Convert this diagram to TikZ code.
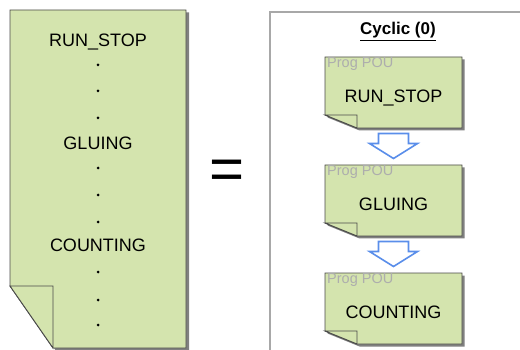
\documentclass[tikz,border=0pt]{standalone}
\usepackage{fontspec}
\setmainfont{Liberation Sans}
\usetikzlibrary{positioning}
\definecolor{note-green}{HTML}{D4E4AE}
\definecolor{note-edge}{HTML}{4A4A4A}
\definecolor{arrow-blue}{HTML}{5A8EEA}
\definecolor{frame-gray}{HTML}{A8A8A8}

\begin{document}
\begin{tikzpicture}[x=1pt, y=-1pt,
    notebody/.style={fill=note-green, draw=note-edge, line width=0.9pt, line join=miter},
    noteshadow/.style={fill=black!50},
    poubox/.style={minimum width=137pt, minimum height=71pt, inner sep=0pt},
    bigtext/.style={font=\fontsize{18}{20}\selectfont, text height=13pt, text depth=0pt, inner sep=0pt},
    poutag/.style={font=\fontsize{14.5}{16}\selectfont, text=black!32, anchor=west, inner sep=0pt},
    dotmark/.style={circle, fill=black, inner sep=0pt, minimum size=3pt},
    blockarrow/.style={draw=arrow-blue, fill=white, line width=1.6pt, line join=miter}]
  \useasboundingbox (0,0) rectangle (520,350);

  % the one long program
  \fill[noteshadow] (13,12.5) -- (189,12.5) -- (189,351) -- (56,351) -- (13,289) -- cycle;
  \draw[notebody] (10,10) -- (186,10) -- (186,348) -- (53,348) -- (10,286) -- cycle;
  \draw[notebody] (10,286) -- (53,286) -- (53,348) -- cycle;
  \node[bigtext] (prog-run) at (98,40) {RUN\_STOP};
  \node[bigtext] (prog-glue) at (98,143) {GLUING};
  \node[bigtext] (prog-count) at (98,245) {COUNTING};
  \foreach \yy in {65,91,118,168,195,222,272,300,325}
    \node[dotmark] (dot-\yy) at (98,\yy) {};

  \node[font=\fontsize{60}{60}\selectfont] (equals) at (227,175) {=};

  % cyclic task with its program POUs
  \draw[frame-gray, line width=1.5pt] (524,12) -- (270,12) -- (270,354);
  \node[font=\fontsize{17}{20}\selectfont\bfseries] (task) at (398,31.5) {\underline{Cyclic (0)}};

  \foreach \nm/\ytop/\txt in {run/57/RUN\_STOP, glue/165/GLUING, count/273/COUNTING} {
    \fill[noteshadow] (327.5,\ytop+2.5) -- ++(137,0) -- ++(0,71) -- ++(-105,0) -- ++(-32,-13) -- cycle;
    \draw[notebody] (325,\ytop) -- ++(137,0) -- ++(0,71) -- ++(-105,0) -- ++(-32,-13) -- cycle;
    \draw[notebody] (325,\ytop+58) -- ++(32,0) -- ++(0,13) -- cycle;
    \node[poubox] (\nm) at (393.5,\ytop+35.5) {};
    \node[poutag] (\nm-tag) at (327,\ytop+7) {Prog POU};
    \node[bigtext] (\nm-txt) at ([yshift=-3.5pt]\nm.center) {\txt};
  }

  \foreach \a/\b in {run/glue, glue/count} {
    \path (\a.south) -- (\b.north) coordinate[midway] (\a-gap);
    \draw[blockarrow, shift={(\a-gap)}] (-15,-13) -- (15,-13) -- (15,-3) -- (24,-3)
      -- (0,12) -- (-24,-3) -- (-15,-3) -- cycle;
  }
\end{tikzpicture}
\end{document}
